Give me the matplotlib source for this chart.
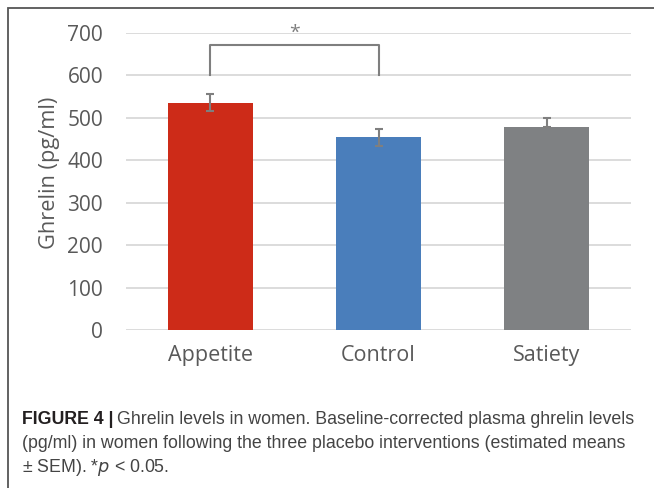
import matplotlib
matplotlib.use("Agg")
import matplotlib.pyplot as plt
from matplotlib.patches import Rectangle

categories = ["Appetite", "Control", "Satiety"]
means = [536, 454, 479]
sem_lower = [20, 20, 0]
sem_upper = [20, 20, 20]
bar_colors = ["#CD2B18", "#4A7EBB", "#7F8183"]
yticks = [0, 100, 200, 300, 400, 500, 600, 700]
sig_pair = (0, 1)
sig_base = 600
sig_top = 672
sig_label = "*"

W, H = 654, 488
fig = plt.figure(figsize=(W / 100, H / 100), dpi=100)
fig.patch.set_facecolor("white")

# border frame
fig.patches.append(Rectangle((7.5 / W, -0.05), 1.1, 1 - 8 / H + 0.05,
                             transform=fig.transFigure, fill=False,
                             edgecolor="#555555", lw=1.3))

ax = fig.add_axes([126 / W, 1 - 330 / H, (631 - 126) / W, (330 - 33) / H])
x = list(range(len(categories)))
ax.bar(x, means, width=0.506, color=bar_colors, zorder=3)
ax.errorbar(x, means, yerr=[sem_lower, sem_upper], fmt="none",
            ecolor="#7F7F7F", elinewidth=1.5, capsize=3, capthick=1.5, zorder=4)

ax.set_xlim(-0.5, 2.5)
ax.set_ylim(0, 700)
ax.set_yticks(yticks)
ax.grid(axis="y", color="#D9D9D9", lw=1.3, zorder=0)
for s in ax.spines.values():
    s.set_visible(False)
ax.tick_params(length=0, labelcolor="#595959")
ax.tick_params(axis="y", pad=16.5, labelsize=15)
ax.tick_params(axis="x", pad=11, labelsize=15.5)
ax.set_xticks(x)
ax.set_xticklabels(categories)
for lbl in ax.get_xticklabels() + ax.get_yticklabels():
    lbl.set_family("Open Sans")
ax.set_ylabel("Ghrelin (pg/ml)", fontsize=15.7, color="#595959", family="Open Sans")
ax.yaxis.set_label_coords((60 - 126) / 505, (330 - 172.5) / 297)

# significance bracket
a, b = sig_pair
ax.plot([a, a, b, b], [sig_base, sig_top, sig_top, sig_base], color="#7F7F7F",
        lw=1.5, clip_on=False, zorder=5)
ax.text((a + b) / 2, 700, sig_label, ha="center", va="center", fontsize=14,
        color="#7F7F7F", family="Open Sans", clip_on=False)

# caption
cap_font = "Liberation Sans"
line1_rest = "Ghrelin levels in women. Baseline-corrected plasma ghrelin levels"
line2 = "(pg/ml) in women following the three placebo interventions (estimated means"
line3 = "\u00b1 SEM). *$p$ < 0.05."
r = fig.canvas.get_renderer()
probe = fig.text(0, 0, "FIGURE 4 | " + line1_rest, fontsize=10, family=cap_font)
wprobe = probe.get_window_extent(r).width
probe.remove()
fs = 10 * 616 / wprobe

y1 = 1 - 420 / H
bold = fig.text(22 / W, y1, "FIGURE 4 |", fontsize=fs, fontweight="bold",
                family=cap_font, color="#231F20", va="center")
bb = bold.get_window_extent(r)
fig.text((bb.x1 + 4) / W, y1, line1_rest,
         fontsize=fs, family=cap_font, color="#444444", va="center")
fig.text(22 / W, 1 - 444 / H, line2,
         fontsize=fs, family=cap_font, color="#444444", va="center")
fig.text(22 / W, 1 - 467 / H, line3,
         fontsize=fs, family=cap_font, color="#444444", va="center")

fig.savefig("out.png", dpi=100, facecolor="white")
